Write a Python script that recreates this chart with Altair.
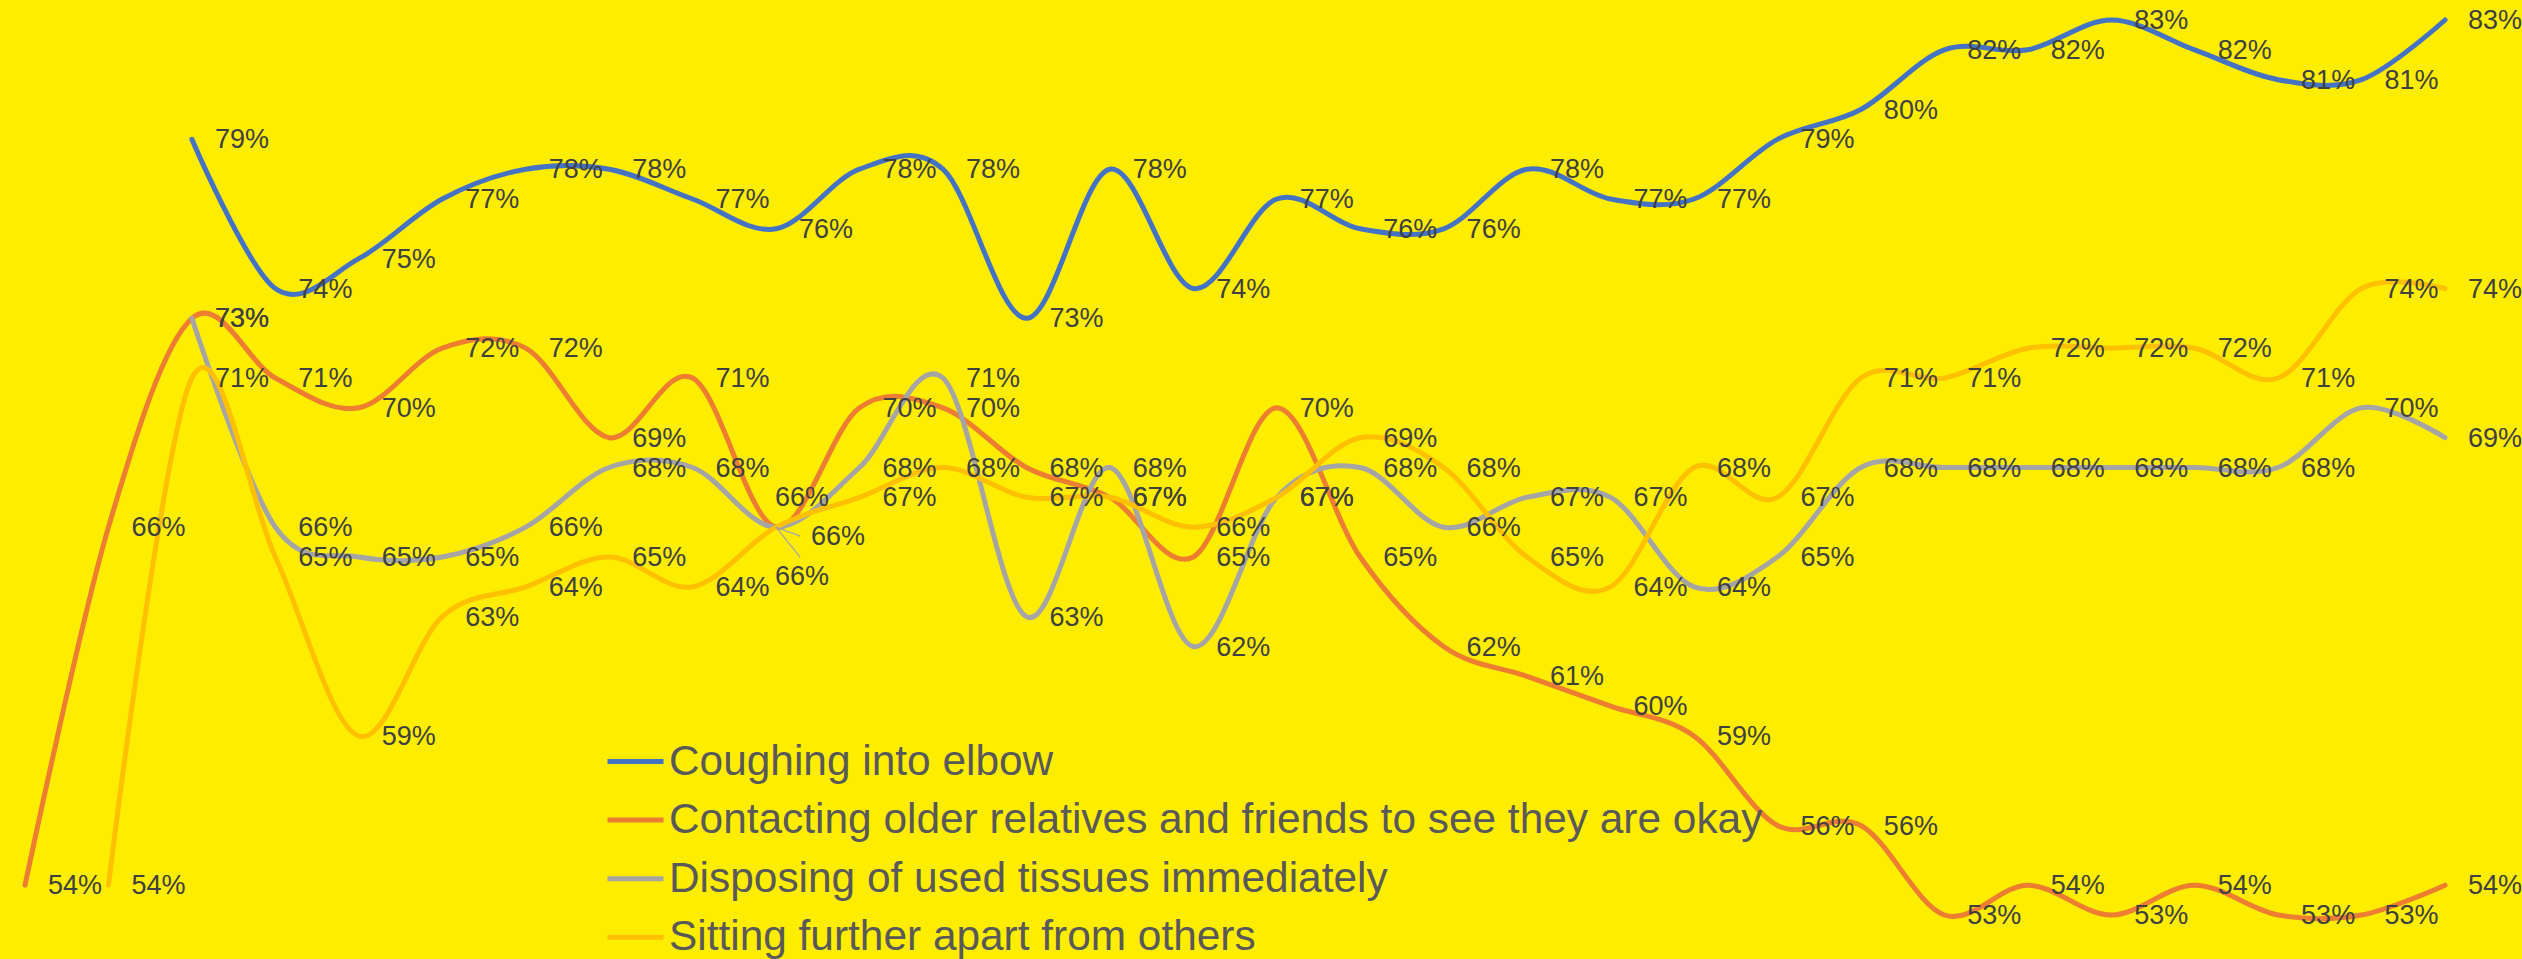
import altair as alt
import pandas as pd

# Series names (legend order) and their Excel-style colours
series = [
    "Coughing into elbow",
    "Contacting older relatives and friends to see they are okay",
    "Disposing of used tissues immediately",
    "Sitting further apart from others",
]
colors = ["#4472C4", "#ED7D31", "#A5A5A5", "#FFC000"]

# Survey waves 0..29; None where a behaviour was not yet asked about
coughing = [None, None, 79, 74, 75, 77, 78, 78, 77, 76, 78, 78, 73, 78, 74,
            77, 76, 76, 78, 77, 77, 79, 80, 82, 82, 83, 82, 81, 81, 83]
contacting = [54, 66, 73, 71, 70, 72, 72, 69, 71, 66, 70, 70, 68, 67, 65,
              70, 65, 62, 61, 60, 59, 56, 56, 53, 54, 53, 54, 53, 53, 54]
disposing = [None, None, 73, 66, 65, 65, 66, 68, 68, 66, 68, 71, 63, 68, 62,
             67, 68, 66, 67, 67, 64, 65, 68, 68, 68, 68, 68, 68, 70, 69]
sitting = [None, 54, 71, 65, 59, 63, 64, 65, 64, 66, 67, 68, 67, 67, 66,
           67, 69, 68, 65, 64, 68, 67, 71, 71, 72, 72, 72, 71, 74, 74]

rows = []
for name, vals in zip(series, [coughing, contacting, disposing, sitting]):
    for i, v in enumerate(vals):
        if v is not None:
            rows.append({"series": name, "wave": i, "value": v})
df = pd.DataFrame(rows)

x = alt.X("wave:Q", scale=alt.Scale(domain=[0, 29], range=[25, 2445], zero=False, nice=False), axis=None)
y = alt.Y("value:Q", scale=alt.Scale(domain=[53, 83], range=[915, 20], zero=False, nice=False), axis=None)
color = alt.Color(
    "series:N",
    scale=alt.Scale(domain=series, range=colors),
    legend=alt.Legend(
        title=None,
        orient="none",
        legendX=605,
        legendY=731,
        symbolType="stroke",
        symbolSize=3136,
        symbolStrokeWidth=5,
        labelFontSize=42.4,
        labelFont="Liberation Sans",
        labelColor="#595959",
        labelOffset=3,
        labelLimit=2000,
        rowPadding=6.6,
        padding=0,
    ),
)

base = alt.Chart(df).transform_calculate(label="datum.value + '%'")

lines = base.mark_line(
    interpolate="cardinal", tension=0, strokeWidth=5, strokeCap="round", strokeJoin="round"
).encode(x=x, y=y, color=color, order="wave:Q")

text_style = dict(align="left", baseline="middle", fontSize=27, font="Liberation Sans", color="#404040")

labels = base.transform_filter(
    "!(datum.wave == 9 && datum.value == 66)"
).mark_text(dx=23, dy=1, **text_style).encode(x=x, y=y, text="label:N")

# Three labels share the 66% point at wave 9; spread them apart
crowded = "datum.wave == 9 && datum.value == 66"
lab_top = base.transform_filter(crowded + " && datum.series == '" + series[1] + "'").mark_text(
    dx=-1, dy=-29, **text_style).encode(x=x, y=y, text="label:N")
lab_mid = base.transform_filter(crowded + " && datum.series == '" + series[2] + "'").mark_text(
    dx=35, dy=10, **text_style).encode(x=x, y=y, text="label:N")
lab_low = base.transform_filter(crowded + " && datum.series == '" + series[3] + "'").mark_text(
    dx=-1, dy=50, **text_style).encode(x=x, y=y, text="label:N")

leaders = base.transform_filter(crowded + " && datum.series == '" + series[2] + "'")
lead1 = leaders.mark_rule(color="#A5A5A5", strokeWidth=1.2, x2Offset=24, y2Offset=9).encode(
    x=x, y=y, x2="wave:Q", y2="value:Q")
lead2 = leaders.mark_rule(color="#A5A5A5", strokeWidth=1.2, x2Offset=24, y2Offset=30).encode(
    x=x, y=y, x2="wave:Q", y2="value:Q")

chart = alt.layer(lines, lead1, lead2, labels, lab_top, lab_mid, lab_low).properties(
    width=2522, height=959, padding=0, autosize=alt.AutoSizeParams(type="none")
).configure(background="#FFED00").configure_view(stroke=None)

chart.save("out.html", embed_options={"renderer": "svg", "actions": False})
